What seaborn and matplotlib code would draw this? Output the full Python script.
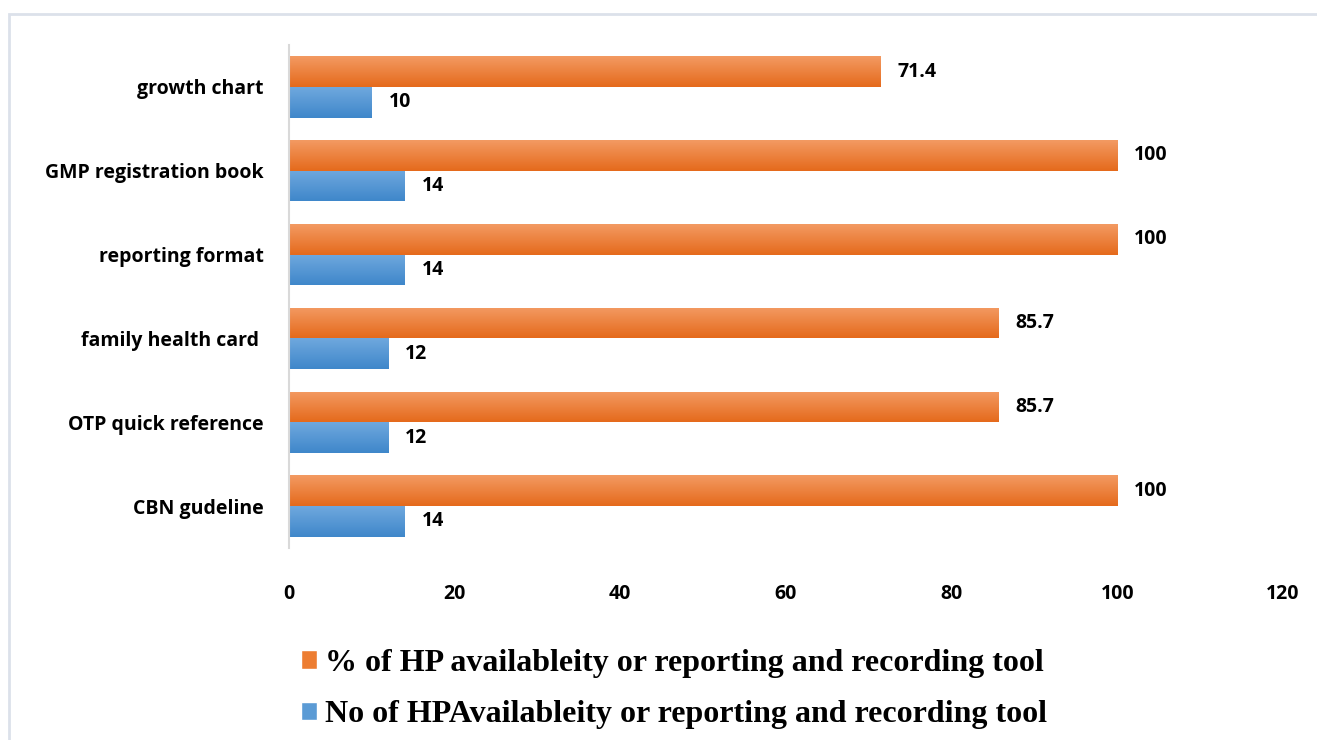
import numpy as np
import pandas as pd
import matplotlib.pyplot as plt
import seaborn as sns
from matplotlib.patches import Patch, Rectangle
from matplotlib.colors import LinearSegmentedColormap

categories = ["growth chart", "GMP registration book", "reporting format",
              "family health card ", "OTP quick reference", "CBN gudeline"]
pct_values = [71.4, 100, 100, 85.7, 85.7, 100]
num_values = [10, 14, 14, 12, 12, 14]
series = ["% of HP availableity or reporting and recording tool",
          "No of HPAvailableity or reporting and recording tool"]
xticks = [0, 20, 40, 60, 80, 100, 120]

df = pd.DataFrame({
    "tool": categories * 2,
    "value": pct_values + num_values,
    "series": [series[0]] * len(categories) + [series[1]] * len(categories),
})

orange = "#ED7D31"
blue = "#5B9BD5"
grad = {orange: ("#F39A62", "#E56A1C"), blue: ("#6FA8DE", "#3F87CA")}

sns.set_style("white")
plt.rcParams["text.color"] = "black"
fig = plt.figure(figsize=(13.17, 7.4), dpi=100)
ax = fig.add_axes([0.2194, 0.2595, 0.7548, 0.6797])

sns.barplot(data=df, x="value", y="tool", hue="series", hue_order=series,
            palette=[orange, blue], orient="h", width=0.73, saturation=1,
            ax=ax, legend=False)

# vertical gradient fill like the original
for cont, col in zip(ax.containers, [orange, blue]):
    cmap = LinearSegmentedColormap.from_list("g", [grad[col][1], grad[col][0]])
    for p in cont.patches:
        x0, y0 = p.get_x(), p.get_y()
        w, h = p.get_width(), p.get_height()
        im = ax.imshow(np.linspace(0, 1, 50).reshape(-1, 1), cmap=cmap,
                       extent=[x0, x0 + w, y0 + h, y0], aspect="auto",
                       origin="lower", zorder=p.get_zorder())
        im.set_clip_path(p)
        p.set_facecolor("none")
        p.set_edgecolor("none")
    ax.bar_label(cont, fmt="%g", padding=12, fontsize=14, fontweight="bold",
                 family="Open Sans", color="black")

ax.set_xlim(0, 120)
ax.set_ylim(5.5, -0.5)
ax.set_xticks(xticks)
ax.set_xlabel("")
ax.set_ylabel("")
for s in ["top", "right", "bottom"]:
    ax.spines[s].set_visible(False)
ax.spines["left"].set_color("#D9D9D9")
ax.spines["left"].set_linewidth(1.5)
ax.tick_params(axis="both", length=0, labelcolor="black")
ax.tick_params(axis="y", pad=18)
ax.tick_params(axis="x", pad=26)
for lab in ax.get_xticklabels() + ax.get_yticklabels():
    lab.set_fontfamily("Open Sans")
    lab.set_fontweight("bold")
    lab.set_fontsize(14)

handles = [Patch(facecolor=orange), Patch(facecolor=blue)]
leg = fig.legend(handles, series, loc="upper left", bbox_to_anchor=(0.207, 0.162),
                 frameon=False, handlelength=0.5, handleheight=0.5,
                 handletextpad=0.25, labelspacing=0.7,
                 prop={"family": "Liberation Serif", "weight": "bold", "size": 23})
for t in leg.get_texts():
    t.set_color("black")

# light outer frame
fig.add_artist(Rectangle((0.007, -0.1), 1.1, 1.081, transform=fig.transFigure,
                         fill=False, edgecolor="#DCE1EA", linewidth=2))

fig.savefig("out.png", dpi=100)
